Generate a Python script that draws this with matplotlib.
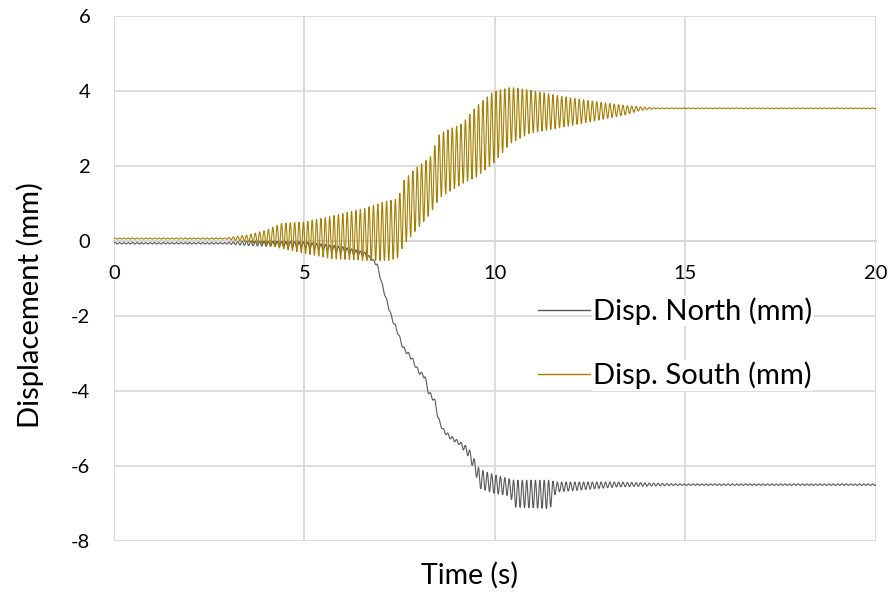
import numpy as np
import matplotlib
matplotlib.use("Agg")
from matplotlib import pyplot as plt

plt.rcParams['font.family'] = ['Lato', 'DejaVu Sans']
plt.rcParams['axes.unicode_minus'] = False

# envelope of the south displacement trace (time s, upper / lower peaks mm)
south_t = [0, 2.9, 3.5, 4.0, 4.4, 5.0, 5.7, 6.6, 7.2, 7.45, 7.6, 7.85, 8.3, 8.55,
           9.15, 9.5, 9.95, 10.4, 10.9, 11.8, 12.7, 13.4, 13.8, 14.2, 20]
south_upper = [0.08, 0.08, 0.16, 0.29, 0.47, 0.51, 0.66, 0.88, 1.08, 1.12, 1.6, 1.88, 2.24, 2.87,
               3.14, 3.58, 3.98, 4.10, 4.03, 3.85, 3.71, 3.62, 3.58, 3.55, 3.55]
south_lower = [0.05, 0.05, -0.02, -0.10, -0.20, -0.33, -0.47, -0.52, -0.52, -0.45, -0.1, 0.19, 0.72, 1.16,
               1.53, 1.70, 2.06, 2.60, 2.87, 3.04, 3.22, 3.36, 3.48, 3.53, 3.53]

# envelope of the north displacement trace
north_t = [0, 2.9, 3.5, 5.0, 6.0, 6.6, 6.76, 6.9, 6.97, 7.07, 7.16, 7.29, 7.42, 7.59, 7.81,
           7.99, 8.16, 8.25, 8.43, 8.51, 8.64, 8.82, 9.08, 9.3, 9.47, 9.6, 10.0, 10.4, 10.5,
           11.45, 11.6, 13.2, 14.8, 20]
north_upper = [-0.04, -0.04, 0.0, -0.02, -0.15, -0.30, -0.45, -0.58, -0.85, -1.25, -1.56, -2.0, -2.32, -2.8, -3.07,
               -3.43, -3.57, -3.97, -4.24, -4.69, -5.0, -5.18, -5.35, -5.5, -5.85, -6.1, -6.24, -6.35, -6.38,
               -6.38, -6.43, -6.43, -6.48, -6.48]
north_lower = [-0.08, -0.08, -0.12, -0.18, -0.32, -0.42, -0.52, -0.66, -0.93, -1.33, -1.64, -2.1, -2.4, -2.9, -3.17,
               -3.53, -3.67, -4.07, -4.34, -4.79, -5.1, -5.28, -5.45, -5.75, -6.15, -6.6, -6.74, -6.8, -7.1,
               -7.14, -6.7, -6.56, -6.52, -6.52]

shake_freq = 8.7  # Hz, dominant response frequency
x_ticks = [0, 5, 10, 15, 20]
y_ticks = [-8, -6, -4, -2, 0, 2, 4, 6]


def trace(knots, upper, lower, t):
    # swing between the upper and lower envelope at the response frequency
    up = np.interp(t, knots, upper)
    lo = np.interp(t, knots, lower)
    phase = 0.5 + 0.5 * np.sin(2 * np.pi * shake_freq * t)
    return lo + (up - lo) * phase


t = np.arange(0, 20.0005, 0.004)
north = trace(north_t, north_upper, north_lower, t)
south = trace(south_t, south_upper, south_lower, t)

fig = plt.figure(figsize=(8.91, 5.97), dpi=100)
ax = fig.add_axes([0.128, 0.094, 0.855, 0.879])

ax.plot(t, north, color='#595959', lw=0.8, label='Disp. North (mm)')
ax.plot(t, south, color='#a67f00', lw=0.8, label='Disp. South (mm)')

ax.set_xlim(0, 20)
ax.set_ylim(-8, 6)
ax.set_xticks(x_ticks)
ax.set_yticks(y_ticks)
ax.grid(True, color='#d9d9d9', lw=1.3)
ax.set_axisbelow(True)

for side in ['top', 'right', 'left']:
    ax.spines[side].set_visible(False)
ax.spines['bottom'].set_position(('data', 0))
ax.spines['bottom'].set_color('#bfbfbf')
ax.spines['bottom'].set_linewidth(1.3)
ax.spines['bottom'].set_zorder(0.5)
ax.tick_params(length=0, labelsize=14.5)
ax.tick_params(axis='x', pad=17)
ax.tick_params(axis='y', pad=17)

ax.set_xlabel('Time (s)', fontsize=20.5)
ax.set_ylabel('Displacement (mm)', fontsize=21)
ax.xaxis.set_label_coords(0.467, -0.04)
ax.yaxis.set_label_coords(-0.092, 0.45)

leg = ax.legend(loc='upper left', bbox_to_anchor=(0.556, 0.464), fontsize=21,
                frameon=False, handlelength=1.8, handletextpad=0.1,
                labelspacing=1.25, borderpad=0, borderaxespad=0)
for line in leg.get_lines():
    line.set_linewidth(1.0)
for text in leg.get_texts():
    text.set_bbox(dict(facecolor='white', edgecolor='none', pad=1))

fig.savefig('out.png', dpi=100)
